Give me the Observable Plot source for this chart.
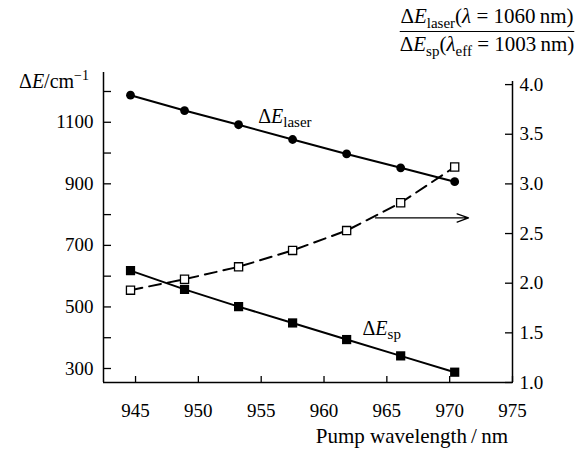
<!DOCTYPE html>
<html><head><meta charset="utf-8">
<script src="https://cdn.jsdelivr.net/npm/d3@7"></script>
<script src="https://cdn.jsdelivr.net/npm/@observablehq/plot@0.6"></script>
<style>body{margin:0;background:#fff}</style>
</head><body><div id="chart"></div>
<script>
// ---- data ----
const wavelength = [944.6, 948.9, 953.2, 957.5, 961.8, 966.1, 970.4];
const dELaser = [1188, 1138, 1092, 1044, 997, 952, 907];
const dESp = [618, 557, 501, 448, 394, 341, 288];
const ratio = [1.93, 2.04, 2.165, 2.33, 2.53, 2.81, 3.17];

const xTicks = [945, 950, 955, 960, 965, 970, 975];
const leftTicks = [300, 400, 500, 600, 700, 800, 900, 1000, 1100, 1200];
const leftLabeled = [300, 500, 700, 900, 1100];
const rightTicks = [1.0, 1.5, 2.0, 2.5, 3.0, 3.5, 4.0];

const xDomain = [942.45, 975];
const leftDomain = [254.5, 1261.7];
const rightDomain = [1.0, 4.0];
const rightOnLeft = [254.5, 1222.4];
const rightAxisTop = 4.03;

const arrowX = [964.1, 971.5];
const arrowRatio = 2.657;
const laserLabel = [954.8, 1096];
const spLabel = [963.1, 407];

// ---- build ----
const FONT = "Liberation Serif";
const toLeft = d3.scaleLinear().domain(rightDomain).range(rightOnLeft);
const rows = wavelength.map((w, i) => ({w, laser: dELaser[i], sp: dESp[i], ratio: toLeft(ratio[i])}));

const chart = Plot.plot({
  width: 584, height: 452,
  marginLeft: 103, marginRight: 72, marginTop: 72, marginBottom: 70,
  style: {fontFamily: FONT, fontSize: "19px", background: "#fff", color: "#000"},
  x: {domain: xDomain},
  y: {domain: leftDomain},
  marks: [
    Plot.ruleX([xDomain[0]], {y1: leftDomain[0], y2: leftDomain[1], strokeWidth: 1.5}),
    Plot.ruleX([xDomain[1]], {y1: leftDomain[0], y2: toLeft(rightAxisTop), strokeWidth: 1.5}),
    Plot.ruleY([leftDomain[0]], {x1: xDomain[0], x2: xDomain[1], strokeWidth: 1.5}),
    Plot.axisX(xTicks, {tickSize: -6, tickPadding: 27, strokeWidth: 1.3, tickFormat: d => String(d), label: null, fontFamily: FONT}),
    Plot.axisY(leftTicks, {anchor: "left", tickSize: -8, tickPadding: 18, strokeWidth: 1.3,
      tickFormat: d => leftLabeled.includes(d) ? String(d) : "", label: null, fontFamily: FONT}),
    Plot.axisY(rightTicks.map(toLeft), {anchor: "right", tickSize: -8, tickPadding: 15, strokeWidth: 1.3,
      tickFormat: d => toLeft.invert(d).toFixed(1), label: null, fontFamily: FONT}),
    Plot.line(rows, {x: "w", y: "laser", stroke: "#000", strokeWidth: 2}),
    Plot.line(rows, {x: "w", y: "sp", stroke: "#000", strokeWidth: 2}),
    Plot.line(rows, {x: "w", y: "ratio", stroke: "#000", strokeWidth: 2, strokeDasharray: "12,7"}),
    Plot.dot(rows, {x: "w", y: "laser", r: 4.4, fill: "#000", stroke: null}),
    Plot.dot(rows, {x: "w", y: "sp", r: 5.2, symbol: "square", fill: "#000", stroke: null}),
    Plot.dot(rows, {x: "w", y: "ratio", r: 4.6, symbol: "square", fill: "#fff", stroke: "#000", strokeWidth: 1.3}),
    Plot.arrow([0], {x1: arrowX[0], x2: arrowX[1], y1: toLeft(arrowRatio), y2: toLeft(arrowRatio),
      stroke: "#000", strokeWidth: 1.3, headAngle: 40, headLength: 14})
  ]
});
document.getElementById("chart").appendChild(chart);

const sx = chart.scale("x"), sy = chart.scale("y");
const svg = d3.select(chart);

function rich(x, y, parts, size, anchor = "start") {
  const t = svg.append("text").attr("x", x).attr("y", y)
    .attr("font-size", size).attr("font-family", FONT)
    .attr("text-anchor", anchor).attr("fill", "#000");
  for (const p of parts) {
    const s = t.append("tspan").text(p.t);
    if (p.i) s.attr("font-style", "italic");
    if (p.s) s.attr("font-size", p.s);
    if (p.dy) s.attr("dy", p.dy);
  }
  return t;
}

// series labels
rich(sx.apply(laserLabel[0]), sy.apply(laserLabel[1]),
  [{t: "Δ"}, {t: "E", i: 1}, {t: "laser", s: 15, dy: 4}], 20);
rich(sx.apply(spLabel[0]), sy.apply(spLabel[1]),
  [{t: "Δ"}, {t: "E", i: 1}, {t: "sp", s: 15, dy: 4}], 20);

// left axis title
rich(89, 88, [{t: "Δ"}, {t: "E", i: 1}, {t: "/cm"}, {t: "−1", s: 14, dy: -8}], 20, "end");

// x axis title
rich(508, 443, [{t: "Pump wavelength\u2009/\u2009nm"}], 21, "end");

// right axis title as fraction
const num = rich(487, 23, [{t: "Δ"}, {t: "E", i: 1}, {t: "laser", s: 15, dy: 5}, {t: "(", dy: -5},
  {t: "λ", i: 1}, {t: " = 1060\u2009nm)"}], 21, "middle");
const den = rich(487, 51, [{t: "Δ"}, {t: "E", i: 1}, {t: "sp", s: 15, dy: 5}, {t: "(", dy: -5},
  {t: "λ", i: 1}, {t: "eff", s: 15, dy: 5}, {t: " = 1003\u2009nm)", dy: -5}], 21, "middle");
const b1 = num.node().getBBox(), b2 = den.node().getBBox();
svg.append("line").attr("x1", Math.min(b1.x, b2.x)).attr("x2", Math.max(b1.x + b1.width, b2.x + b2.width))
  .attr("y1", 31.5).attr("y2", 31.5).attr("stroke", "#000").attr("stroke-width", 1.2);
</script>
</body></html>
